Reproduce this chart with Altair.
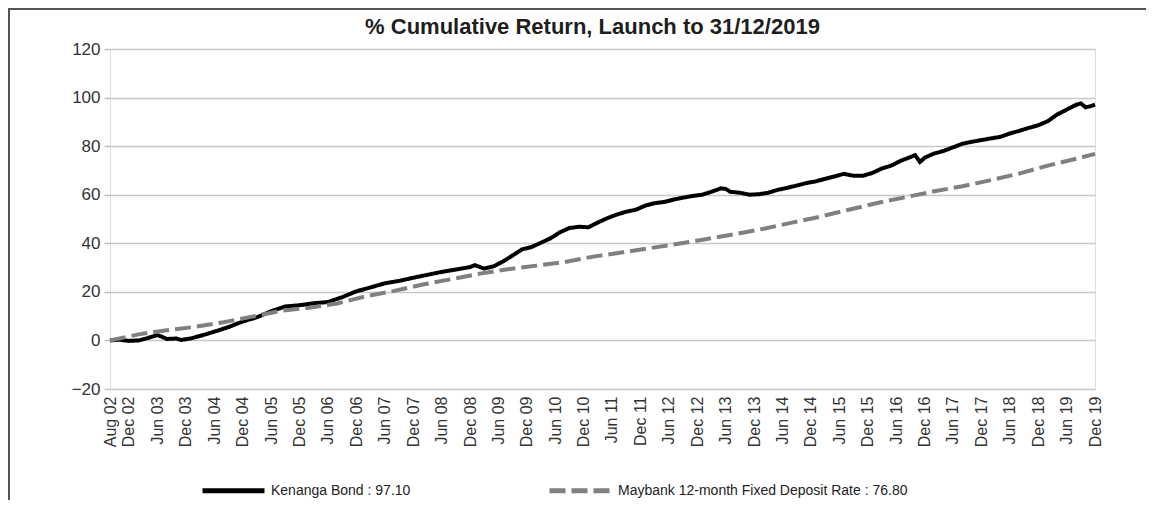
import altair as alt
import pandas as pd

title_text = "% Cumulative Return, Launch to 31/12/2019"
series_names = ["Kenanga Bond : 97.10", "Maybank 12-month Fixed Deposit Rate : 76.80"]

kenanga_dates = [
    "2002-08", "2002-10", "2002-12",
    "2003-02", "2003-04", "2003-06", "2003-07", "2003-08", "2003-10", "2003-11",
    "2004-01", "2004-04", "2004-07", "2004-09", "2004-12",
    "2005-03", "2005-06", "2005-09", "2005-12",
    "2006-03", "2006-06", "2006-09", "2006-12",
    "2007-03", "2007-06", "2007-09", "2007-12",
    "2008-03", "2008-06", "2008-09", "2008-12",
    "2009-01", "2009-03", "2009-05", "2009-07", "2009-09", "2009-11",
    "2010-01", "2010-03", "2010-05", "2010-07", "2010-09", "2010-11",
    "2011-01", "2011-03", "2011-05", "2011-07", "2011-09", "2011-11",
    "2012-01", "2012-03", "2012-05", "2012-07", "2012-09", "2012-11",
    "2013-01", "2013-03", "2013-05", "2013-06", "2013-07", "2013-09", "2013-11",
    "2014-01", "2014-03", "2014-05", "2014-07", "2014-09", "2014-11",
    "2015-01", "2015-03", "2015-05", "2015-07", "2015-09", "2015-11",
    "2016-01", "2016-03", "2016-05", "2016-07", "2016-09", "2016-10", "2016-11", "2016-12",
    "2017-02", "2017-04", "2017-06", "2017-08", "2017-10", "2017-12",
    "2018-02", "2018-04", "2018-06", "2018-08", "2018-10", "2018-12",
    "2019-02", "2019-04", "2019-06", "2019-08", "2019-09", "2019-10", "2019-11", "2019-12",
]
kenanga_values = [
    0.0, 0.3, -0.2,
    0.0, 1.0, 2.2, 1.5, 0.6, 0.8, 0.2,
    0.8, 2.4, 4.2, 5.5, 7.8,
    9.5, 12.0, 14.0, 14.5,
    15.3, 15.8, 17.8, 20.2,
    21.8, 23.5, 24.5, 25.8,
    27.0, 28.2, 29.2, 30.2,
    31.0, 29.6, 30.5, 32.5, 35.0, 37.5,
    38.5, 40.2, 42.0, 44.5, 46.3, 46.8,
    46.6, 48.5, 50.3, 51.8, 53.0, 53.8,
    55.5, 56.5, 57.0, 58.0, 58.8, 59.5,
    60.0, 61.2, 62.6, 62.4, 61.2, 60.8, 60.0,
    60.2, 60.8, 62.0, 62.8, 63.8, 64.8,
    65.5, 66.5, 67.5, 68.6, 67.8, 67.8,
    69.0, 70.8, 72.0, 74.0, 75.5, 76.3, 73.5, 75.2,
    77.0, 78.0, 79.5, 81.0, 81.8, 82.5,
    83.2, 83.8, 85.2, 86.3, 87.5, 88.6,
    90.3, 93.0, 95.0, 97.0, 97.6, 96.0, 96.4, 97.1,
]

maybank_dates = [
    "2002-08",
    "2003-02", "2003-08", "2004-02", "2004-08", "2005-02", "2005-08",
    "2006-02", "2006-08", "2007-02", "2007-08", "2008-02", "2008-08",
    "2009-02", "2009-08", "2010-02", "2010-08", "2011-02", "2011-08",
    "2012-02", "2012-08", "2013-02", "2013-08", "2014-02", "2014-08",
    "2015-02", "2015-08", "2016-02", "2016-08", "2017-02", "2017-08",
    "2018-02", "2018-08", "2019-02", "2019-08", "2019-12",
]
maybank_values = [
    0.0,
    2.5, 4.2, 5.6, 7.5, 9.8, 12.2,
    13.5, 15.2, 18.2, 20.4, 23.0, 25.2,
    27.5, 29.3, 30.8, 32.3, 34.5, 36.2,
    38.0, 39.8, 41.8, 43.8, 46.0, 48.5,
    51.0, 53.8, 56.6, 59.0, 61.4, 63.5,
    66.0, 68.7, 72.0, 74.8, 76.8,
]

x_tick_months = ["2002-08", "2002-12"] + [
    f"{yr}-{mo}" for yr in range(2003, 2020) for mo in ("06", "12")
]
y_ticks = [-20, 0, 20, 40, 60, 80, 100, 120]

FONT = "Liberation Sans"

df = pd.concat([
    pd.DataFrame({"date": pd.to_datetime(kenanga_dates), "value": kenanga_values,
                  "series": series_names[0], "order": 2}),
    pd.DataFrame({"date": pd.to_datetime(maybank_dates), "value": maybank_values,
                  "series": series_names[1], "order": 1}),
], ignore_index=True)


def dt(s):
    y, m = s.split("-")
    return alt.DateTime(year=int(y), month=int(m), date=1)


tick_vals = [dt(s) for s in x_tick_months]

x_enc = alt.X(
    "date:T",
    scale=alt.Scale(domain=[dt("2002-08"), dt("2019-12")], nice=False),
    axis=alt.Axis(values=tick_vals, format="%b %y", labelAngle=-90, title=None,
                  grid=False, ticks=False, domain=False, labelPadding=7,
                  labelFontSize=16, labelFont=FONT, labelColor="#333333",
                  labelOverlap=False, labelFlush=False),
)
y_enc = alt.Y(
    "value:Q",
    scale=alt.Scale(domain=[-20, 120], nice=False, zero=False),
    axis=alt.Axis(values=y_ticks, title=None, grid=True, gridColor="#c8c8c8",
                  gridWidth=1.5, tickColor="#c0c0c0", tickSize=6, tickWidth=1.5,
                  labelPadding=4, labelFontSize=17, labelFont=FONT,
                  labelColor="#333333", domain=False),
)


def make_legend():
    return alt.Legend(
        title=None, orient="none", legendX=90, legendY=408, direction="horizontal",
        symbolType="stroke", symbolSize=3844, symbolStrokeWidth=5,
        labelFontSize=14, labelFont=FONT, labelColor="#222222", labelLimit=0,
        columnPadding=128, labelOffset=4,
    )


lines = alt.Chart(df).mark_line(strokeWidth=4).encode(
    x=x_enc,
    y=y_enc,
    color=alt.Color("series:N",
                    scale=alt.Scale(domain=series_names, range=["#000000", "#808080"]),
                    legend=make_legend()),
    strokeDash=alt.StrokeDash("series:N",
                              scale=alt.Scale(domain=series_names, range=[[1, 0], [16, 6]]),
                              legend=make_legend()),
    order=alt.Order("order:Q"),
)

frame_data = alt.Data(values=[{"k": 0}])
left_frame = alt.Chart(frame_data).mark_rule(color="#555555", strokeWidth=2).encode(
    x=alt.value(-101), y=alt.value(-41), y2=alt.value(451))
top_frame = alt.Chart(frame_data).mark_rule(color="#555555", strokeWidth=2).encode(
    x=alt.value(-102), x2=alt.value(1036), y=alt.value(-40))

chart = alt.layer(lines, left_frame, top_frame).properties(
    width=985,
    height=340,
    autosize=alt.AutoSizeParams(type="none"),
    padding={"left": 102, "top": 41, "right": 51, "bottom": 111},
    title=alt.TitleParams(title_text, fontSize=22, font=FONT, fontWeight="bold",
                          color="#1e1e1e", anchor="middle", frame="group",
                          offset=-32, dx=-10),
).configure_view(
    stroke="#bdbdbd", strokeWidth=2
).configure(background="white")

chart.save("out.html", embed_options={"renderer": "svg", "actions": False})
